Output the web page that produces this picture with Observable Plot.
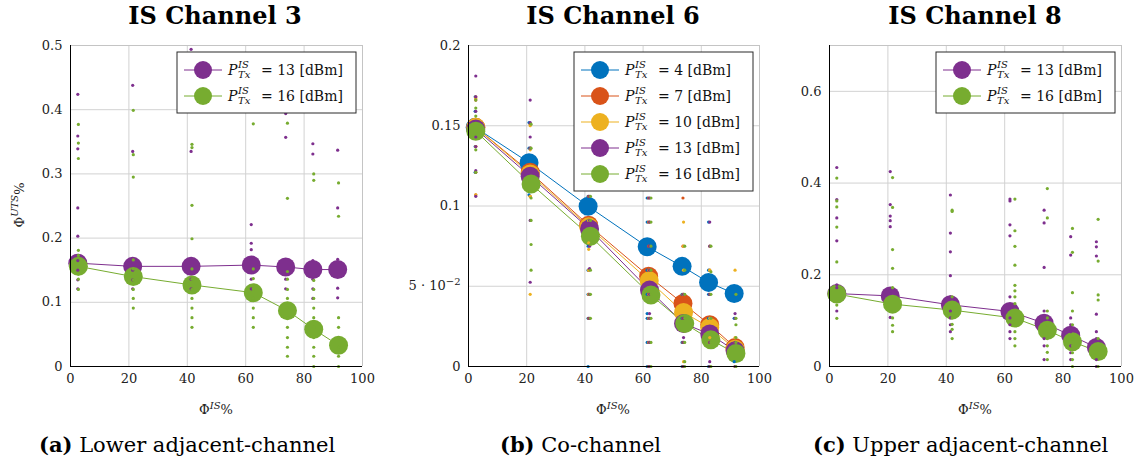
<!DOCTYPE html>
<html>
<head>
<meta charset="utf-8">
<script src="https://cdn.jsdelivr.net/npm/d3@7"></script>
<script src="https://cdn.jsdelivr.net/npm/@observablehq/plot@0.6"></script>
<style>
  body { margin: 0; background: #fff; }
  #fig { position: relative; width: 1148px; height: 467px; font-family: "DejaVu Serif", serif; color: #000; overflow: hidden; }
  .panel { position: absolute; top: 0; }
  .title { position: absolute; top: 3px; font-weight: bold; font-size: 24px; line-height: 1.1; transform: translateX(-50%); white-space: nowrap; }
  .xlab { position: absolute; top: 400px; font-size: 13px; transform: translateX(-50%); white-space: nowrap; color: #222; }
  .xlab sup, .ylab sup { font-size: 10px; font-style: italic; }
  .ylab { position: absolute; left: 18px; top: 205px; font-size: 13px; transform: translate(-50%, -50%) rotate(-90deg); white-space: nowrap; color: #222; }
  .cap { position: absolute; top: 432px; font-size: 21px; white-space: nowrap; }
  .cap b { font-weight: bold; }
</style>
</head>
<body>
<div id="fig"></div>
<script>
// Shared axis ticks and MATLAB-style series colours keyed by transmit power (dBm)
const xTicks = [0, 20, 40, 60, 80, 100];
const powerColors = { 4: "#0072BD", 7: "#D95319", 10: "#EDB120", 13: "#7E2F8E", 16: "#77AC30" };

// ---- IS Channel 3 (lower adjacent-channel) ----
const ch3YTicks = [0, 0.1, 0.2, 0.3, 0.4, 0.5];
const ch3X13 = [2.5, 21.3, 41.3, 61.9, 73.7, 83.0, 91.5];
const ch3Y13 = [0.161, 0.156, 0.156, 0.158, 0.155, 0.151, 0.151];
const ch3Runs13 = [
  [0.424, 0.359, 0.339, 0.247, 0.203, 0.165, 0.150, 0.135, 0.121],
  [0.438, 0.335, 0.150, 0.135, 0.121],
  [0.494, 0.335, 0.150, 0.136, 0.121],
  [0.221, 0.192, 0.182, 0.168, 0.150, 0.136, 0.121],
  [0.394, 0.357, 0.136, 0.121],
  [0.347, 0.331, 0.165, 0.136, 0.121, 0.106],
  [0.337, 0.247, 0.167, 0.122, 0.107]
];
const ch3X16 = [2.7, 21.5, 41.6, 62.6, 74.3, 83.3, 91.8];
const ch3Y16 = [0.156, 0.140, 0.127, 0.115, 0.087, 0.058, 0.033];
const ch3Runs16 = [
  [0.377, 0.348, 0.324, 0.181, 0.173, 0.144, 0.136, 0.120],
  [0.399, 0.330, 0.295, 0.166, 0.152, 0.135, 0.120, 0.106, 0.091],
  [0.346, 0.341, 0.251, 0.199, 0.152, 0.136, 0.120, 0.106, 0.091, 0.076, 0.061],
  [0.378, 0.152, 0.137, 0.121, 0.106, 0.091, 0.076, 0.061],
  [0.379, 0.262, 0.148, 0.136, 0.120, 0.106, 0.091, 0.076, 0.061, 0.045, 0.030, 0.016],
  [0.300, 0.290, 0.134, 0.120, 0.106, 0.091, 0.076, 0.061, 0.045, 0.030, 0.016, 0],
  [0.286, 0.234, 0.076, 0.061, 0.045, 0.030, 0.016, 0]
];

// ---- IS Channel 6 (co-channel) ----
const ch6YTicks = [0, 0.05, 0.1, 0.15, 0.2];
const ch6X4 = [2.3, 20.8, 41.1, 61.4, 73.4, 82.5, 91.3];
const ch6Y4 = [0.149, 0.127, 0.0998, 0.0746, 0.0624, 0.0524, 0.0455];
const ch6Runs4 = [
  [0.168, 0.159, 0.137, 0.121],
  [0.152, 0.136, 0.107],
  [0.106, 0.091, 0.075, 0.060, 0.045, 0.030, 0],
  [0.105, 0.090, 0.075, 0.060, 0.045, 0.033, 0.030, 0.015, 0],
  [0.060, 0.045, 0.030, 0.015, 0],
  [0.090, 0.060, 0.045, 0.030, 0],
  [0.045, 0.030, 0.003]
];
const ch6X7 = [2.5, 21.2, 41.3, 61.9, 73.7, 82.9, 91.6];
const ch6Y7 = [0.149, 0.121, 0.088, 0.0563, 0.0393, 0.026, 0.0119];
const ch6Runs7 = [
  [0.168, 0.166, 0.137, 0.121, 0.107],
  [0.151, 0.136, 0.106],
  [0.106, 0.091, 0.060, 0.045, 0.030],
  [0.105, 0.090, 0.075, 0.060, 0.045, 0.030, 0.015, 0],
  [0.105, 0.075, 0.045, 0.030, 0.015, 0],
  [0.060, 0.045, 0.015, 0],
  [0.015, 0]
];
const ch6X10 = [2.5, 21.2, 41.3, 62.1, 73.9, 82.9, 91.6];
const ch6Y10 = [0.149, 0.120, 0.087, 0.0534, 0.0337, 0.0243, 0.0108];
const ch6Runs10 = [
  [0.167, 0.137, 0.107],
  [0.150, 0.135, 0.106, 0.045],
  [0.091, 0.077, 0.073, 0.060, 0.045],
  [0.090, 0.060, 0.045, 0.030, 0.015],
  [0.090, 0.075, 0.060, 0.045, 0.003],
  [0.075, 0.060, 0.030, 0.018],
  [0.060, 0.018]
];
const ch6X13 = [2.5, 21.2, 41.6, 62.2, 73.9, 82.9, 91.6];
const ch6Y13 = [0.148, 0.1185, 0.0857, 0.0476, 0.0268, 0.0202, 0.0098];
const ch6Runs13 = [
  [0.181, 0.168, 0.159, 0.143, 0.137, 0.122, 0.106],
  [0.166, 0.152, 0.143, 0.136, 0.091, 0.0525],
  [0.106, 0.091, 0.075, 0.061, 0.045, 0.030],
  [0.105, 0.090, 0.075, 0.060, 0.045, 0.033, 0.030, 0.015, 0],
  [0.045, 0.030, 0.018, 0.015, 0],
  [0.090, 0.075, 0.045, 0.015, 0.003, 0],
  [0.033, 0.030, 0.015, 0]
];
const ch6X16 = [2.5, 21.5, 41.9, 62.7, 74.3, 83.3, 91.9];
const ch6Y16 = [0.1466, 0.1137, 0.0811, 0.0445, 0.0268, 0.0166, 0.0081];
const ch6Runs16 = [
  [0.166, 0.161, 0.156, 0.135, 0.121],
  [0.151, 0.136, 0.105, 0.091, 0.076, 0.060],
  [0.106, 0.091, 0.076, 0.060, 0.045, 0.030],
  [0.105, 0.090, 0.075, 0.060, 0.045, 0.030, 0.015, 0],
  [0.075, 0.060, 0.045, 0.030, 0.015, 0.003, 0],
  [0.075, 0.059, 0.045, 0.030, 0.015, 0],
  [0.045, 0.030, 0.026, 0.018, 0.015, 0]
];

// ---- IS Channel 8 (upper adjacent-channel) ----
const ch8YTicks = [0, 0.2, 0.4, 0.6];
const ch8X13 = [2.5, 20.8, 41.4, 61.8, 73.5, 82.6, 91.4];
const ch8Y13 = [0.159, 0.154, 0.1345, 0.120, 0.0945, 0.068, 0.0415];
const ch8Runs13 = [
  [0.434, 0.364, 0.324, 0.274, 0.178, 0.172, 0.121],
  [0.425, 0.353, 0.328, 0.318, 0.305, 0.165, 0.107],
  [0.374, 0.291, 0.250, 0.198, 0.152, 0.121, 0.106, 0.091, 0.076],
  [0.365, 0.361, 0.309, 0.285, 0.152, 0.106, 0.091, 0.076, 0.061],
  [0.341, 0.313, 0.216, 0.121, 0.061, 0.045, 0.015],
  [0.283, 0.243, 0.106, 0.091, 0.076, 0.045, 0.030, 0.015],
  [0.272, 0.261, 0.241, 0.114, 0.076, 0.061, 0.015, 0]
];
const ch8X16 = [2.5, 21.6, 42.0, 63.5, 74.6, 83.2, 92.0];
const ch8Y16 = [0.158, 0.136, 0.123, 0.1055, 0.079, 0.054, 0.0327];
const ch8Runs16 = [
  [0.411, 0.361, 0.348, 0.304, 0.228, 0.134, 0.105],
  [0.412, 0.347, 0.255, 0.214, 0.172, 0.106, 0.090, 0.076],
  [0.341, 0.338, 0.152, 0.106, 0.092, 0.081, 0.061],
  [0.365, 0.296, 0.262, 0.221, 0.177, 0.165, 0.152, 0.137, 0.091, 0.076, 0.061, 0.045],
  [0.388, 0.324, 0.121, 0.106, 0.091, 0.061, 0.045, 0.031, 0.015],
  [0.301, 0.249, 0.161, 0.121, 0.091, 0.061, 0.045, 0.030, 0.015, 0],
  [0.321, 0.230, 0.156, 0.145, 0.061, 0]
];

// One series: mean curve points plus the individual run values around each mean
function series(power, xs, ys, runs) {
  return {
    power,
    color: powerColors[power],
    means: xs.map((x, i) => ({ x, y: ys[i] })),
    runs: runs.flatMap((vals, g) => vals.map(v => ({ x: xs[g], y: v })))
  };
}

const fig = document.getElementById("fig");

function drawPanel({ left, width, ml, mr, yMax, yTicks, yFormat, list }) {
  const H = 420, mt = 45, mb = 54;
  const gridStyle = { stroke: "#d2d2d2", strokeOpacity: 1 };
  const chart = Plot.plot({
    width, height: H,
    marginLeft: ml, marginRight: mr, marginTop: mt, marginBottom: mb,
    x: { domain: [0, 100] },
    y: { domain: [0, yMax] },
    style: { fontFamily: "DejaVu Serif", fontSize: "13px", color: "#222", background: "transparent", overflow: "visible" },
    marks: [
      Plot.gridX(xTicks, gridStyle),
      Plot.gridY(yTicks, gridStyle),
      Plot.ruleX([100], { stroke: "#c4c4c4" }),
      Plot.ruleY([yMax], { stroke: "#c4c4c4" }),
      Plot.axisX(xTicks, { tickSize: 0, tickPadding: 7, label: null }),
      Plot.axisY(yTicks, { tickSize: 0, tickPadding: 8, label: null, tickFormat: yFormat }),
      ...list.map(s => Plot.line(s.means, { x: "x", y: "y", stroke: s.color, strokeWidth: 1 })),
      ...list.map(s => Plot.dot(s.means, { x: "x", y: "y", r: 9.5, fill: s.color })),
      ...list.map(s => Plot.dot(s.runs, { x: "x", y: "y", r: 1.6, fill: s.color })),
      Plot.ruleX([0], { stroke: "#000" }),
      Plot.ruleY([0], { stroke: "#000" })
    ]
  });
  chart.classList.add("panel");
  chart.style.left = left + "px";

  const svg = d3.select(chart);

  // typeset scientific tick labels such as "5 · 10^-2" with a raised exponent
  svg.selectAll("text").each(function () {
    const m = /^(.*10)\^(.+)$/.exec(this.textContent);
    if (!m) return;
    const t = d3.select(this);
    t.text(null);
    t.append("tspan").text(m[1]);
    t.append("tspan").attr("font-size", 10).attr("dy", "-0.5em").text(m[2]);
  });

  // legend box in the upper-right corner of the frame
  const lw = 179, lh = 26 * list.length + 9;
  const lx = width - mr - 6 - lw, ly = mt + 7;
  const g = svg.append("g")
    .attr("font-family", "DejaVu Serif")
    .attr("text-anchor", "start")
    .attr("fill", "#111");
  g.append("rect").attr("x", lx).attr("y", ly).attr("width", lw).attr("height", lh)
    .attr("fill", "#fff").attr("stroke", "#2a2a2a").attr("stroke-width", 1);
  list.forEach((s, i) => {
    const cy = ly + 18 + 26 * i, tx = lx + 51;
    g.append("line").attr("x1", lx + 7).attr("x2", lx + 45).attr("y1", cy).attr("y2", cy)
      .attr("stroke", s.color).attr("stroke-width", 1);
    g.append("circle").attr("cx", lx + 26).attr("cy", cy).attr("r", 9).attr("fill", s.color);
    g.append("text").attr("x", tx).attr("y", cy + 5).attr("font-size", 14).attr("font-style", "italic").text("P");
    g.append("text").attr("x", tx + 10).attr("y", cy - 2).attr("font-size", 10).attr("font-style", "italic").text("IS");
    g.append("text").attr("x", tx + 10).attr("y", cy + 8).attr("font-size", 10).attr("font-style", "italic").text("Tx");
    g.append("text").attr("x", tx + 33).attr("y", cy + 5).attr("font-size", 14).text(`= ${s.power} [dBm]`);
  });
  fig.appendChild(chart);
}

drawPanel({
  left: 0, width: 380, ml: 70, mr: 18, yMax: 0.5, yTicks: ch3YTicks,
  yFormat: v => String(v),
  list: [series(13, ch3X13, ch3Y13, ch3Runs13), series(16, ch3X16, ch3Y16, ch3Runs16)]
});
drawPanel({
  left: 380, width: 390, ml: 88, mr: 11, yMax: 0.2, yTicks: ch6YTicks,
  yFormat: v => (v === 0.05 ? "5 · 10^−2" : String(v)),
  list: [
    series(4, ch6X4, ch6Y4, ch6Runs4),
    series(7, ch6X7, ch6Y7, ch6Runs7),
    series(10, ch6X10, ch6Y10, ch6Runs10),
    series(13, ch6X13, ch6Y13, ch6Runs13),
    series(16, ch6X16, ch6Y16, ch6Runs16)
  ]
});
drawPanel({
  left: 770, width: 378, ml: 59, mr: 27, yMax: 0.7, yTicks: ch8YTicks,
  yFormat: v => String(v),
  list: [series(13, ch8X13, ch8Y13, ch8Runs13), series(16, ch8X16, ch8Y16, ch8Runs16)]
});

// Titles, axis labels and sub-captions
const titles = [["IS Channel 3", 215], ["IS Channel 6", 613], ["IS Channel 8", 975]];
titles.forEach(([t, cx]) => {
  const d = document.createElement("div");
  d.className = "title"; d.style.left = cx + "px"; d.textContent = t;
  fig.appendChild(d);
});
[216, 613, 975].forEach(cx => {
  const d = document.createElement("div");
  d.className = "xlab"; d.style.left = cx + "px";
  d.innerHTML = "Φ<sup>IS</sup>%";
  fig.appendChild(d);
});
const yl = document.createElement("div");
yl.className = "ylab"; yl.innerHTML = "Φ<sup>UTS</sup>%";
fig.appendChild(yl);
const captions = [["(a)", "Lower adjacent-channel", 39], ["(b)", "Co-channel", 500], ["(c)", "Upper adjacent-channel", 813]];
captions.forEach(([k, t, x]) => {
  const d = document.createElement("div");
  d.className = "cap"; d.style.left = x + "px";
  d.innerHTML = `<b>${k}</b> ${t}`;
  fig.appendChild(d);
});
</script>
</body>
</html>
